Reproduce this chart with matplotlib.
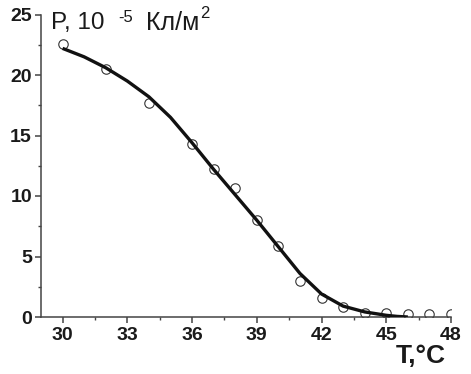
import matplotlib
matplotlib.use("Agg")
import matplotlib.pyplot as plt
from matplotlib.ticker import MultipleLocator

# measured points
t_exp = [30, 32, 34, 36, 37, 38, 39, 40, 41, 42, 43, 44, 45, 46, 47, 48]
p_exp = [22.6, 20.5, 17.7, 14.3, 12.2, 10.7, 8.0, 5.9, 3.0, 1.6, 0.8, 0.35, 0.3, 0.25, 0.25, 0.25]

# fitted curve
t_fit = [30, 31, 32, 33, 34, 35, 36, 37, 38, 39, 40, 41, 42, 43, 44, 45, 45.5, 46]
p_fit = [22.2, 21.5, 20.6, 19.5, 18.2, 16.5, 14.4, 12.2, 10.1, 8.0, 5.8, 3.6, 1.9, 0.9, 0.42, 0.14, 0.05, 0.0]

plt.rcParams['font.family'] = ['Liberation Sans', 'DejaVu Sans']
TXT = '#1a1a1a'

fig = plt.figure(figsize=(4.71, 3.74), dpi=100)
ax = fig.add_axes([41 / 471, 1 - 317 / 374, 410 / 471, 302.5 / 374])

ax.plot(t_exp, p_exp, 'o', ms=6.8, mfc='none', mec='#333333', mew=0.8, zorder=2)
ax.plot(t_fit, p_fit, '-', color='#111111', lw=2.4, solid_joinstyle='round',
        solid_capstyle='butt', zorder=3)

ax.set_xlim(29, 48)
ax.set_ylim(0, 25)
ax.xaxis.set_major_locator(MultipleLocator(3))
ax.xaxis.set_minor_locator(MultipleLocator(1.5))
ax.yaxis.set_major_locator(MultipleLocator(5))
ax.yaxis.set_minor_locator(MultipleLocator(2.5))

for s in ['top', 'right']:
    ax.spines[s].set_visible(False)
for s in ['left', 'bottom']:
    ax.spines[s].set_color('#444444')
    ax.spines[s].set_linewidth(1.1)

ax.tick_params(which='major', direction='out', length=4.5, width=1.1, color='#444444',
               labelsize=14, pad=2)
ax.tick_params(which='minor', direction='out', length=2.2, width=1.0, color='#444444')
ax.tick_params(axis='x', which='major', pad=3)
for lab in ax.get_xticklabels() + ax.get_yticklabels():
    lab.set_fontweight('bold')
    lab.set_color(TXT)

# y axis label at the top left: main text with raised small parts
fig.canvas.draw()
r = fig.canvas.get_renderer()
base = 374 - 29.5
fig.text(51 / 471, base / 374, 'P, 10', fontsize=17.5, color=TXT, va='baseline')
fig.text(118 / 471, (base + 8) / 374, '-5', fontsize=12, color=TXT, va='baseline')
t = fig.text(146 / 471, base / 374, 'Кл/м', fontsize=18, color=TXT, va='baseline')
x = t.get_window_extent(r).x1 + 1
fig.text(x / 471, (base + 11) / 374, '2', fontsize=12, color=TXT, va='baseline')

# x axis label at the bottom right
fig.text(446 / 471, 1 - 363 / 374, 'T,°C', fontsize=19, fontweight='bold',
         color=TXT, ha='right', va='baseline')

fig.savefig('out.png', dpi=100)
